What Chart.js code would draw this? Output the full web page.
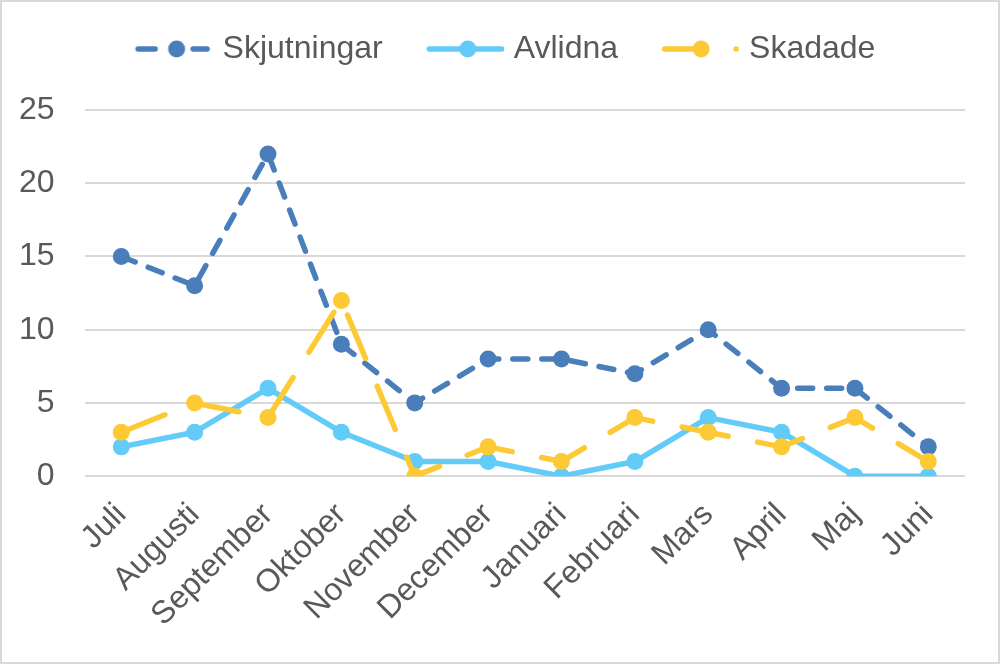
<!DOCTYPE html>
<html>
<head>
<meta charset="utf-8">
<title>Skjutningar per månad</title>
<script src="https://cdn.jsdelivr.net/npm/chart.js@4/dist/chart.umd.min.js"></script>
<style>
  html, body { margin: 0; padding: 0; background: #fff; }
  #wrap { position: relative; width: 1000px; height: 664px; box-sizing: border-box; border: 2px solid #d9d9d9; }
</style>
</head>
<body>
<div id="wrap"><canvas id="chart"></canvas></div>
<script>
const months = ['Juli', 'Augusti', 'September', 'Oktober', 'November', 'December',
    'Januari', 'Februari', 'Mars', 'April', 'Maj', 'Juni'];
const skjutningar = [15, 13, 22, 9, 5, 8, 8, 7, 10, 6, 6, 2];
const avlidna = [2, 3, 6, 3, 1, 1, 0, 1, 4, 3, 0, 0];
const skadade = [3, 5, 4, 12, 0, 2, 1, 4, 3, 2, 4, 1];
const yTicks = [0, 5, 10, 15, 20, 25];

const FONT = "'Liberation Sans', Arial, sans-serif";
const TEXT = '#595959';
const BLUE = '#4a7ebb';
const LIGHT = '#62cbf8';
const GOLD = '#fdc935';

// legend icon: line pieces + marker, drawn on a small canvas
function legendIcon(color, pieces, dotX, extraDot) {
    const c = document.createElement('canvas');
    c.width = 98; c.height = 20;
    const g = c.getContext('2d');
    g.strokeStyle = color;
    g.fillStyle = color;
    g.lineWidth = 5.5;
    g.lineCap = 'round';
    pieces.forEach(([a, b]) => {
        g.beginPath(); g.moveTo(a, 10); g.lineTo(b, 10); g.stroke();
    });
    g.beginPath(); g.arc(dotX, 10, 8.5, 0, Math.PI * 2); g.fill();
    if (extraDot) {
        g.beginPath(); g.arc(extraDot, 10, 2.8, 0, Math.PI * 2); g.fill();
    }
    return c;
}

const icons = [
    legendIcon(BLUE, [[23.5, 40.5], [78.5, 92.5]], 62),
    legendIcon(LIGHT, [[23.5, 95.5]], 62),
    legendIcon(GOLD, [[23.5, 61]], 60, 95)
];

// extra room between legend and plot, and a small nudge of the legend row
const legendSpacer = {
    id: 'legendSpacer',
    beforeInit(chart) {
        const fit = chart.legend.fit;
        chart.legend.fit = function () {
            fit.call(this);
            this.height += 37;
        };
    },
    afterLayout(chart) {
        const lg = chart.legend;
        lg.left += 6;
        lg.right += 6;
        lg.top += 2;
    }
};

const ctx = document.getElementById('chart');
new Chart(ctx, {
    type: 'line',
    data: {
        labels: months,
        datasets: [{
            label: 'Skjutningar',
            data: skjutningar,
            borderColor: BLUE,
            backgroundColor: BLUE,
            borderDash: [15, 14],
            order: 2
        }, {
            label: 'Avlidna',
            data: avlidna,
            borderColor: LIGHT,
            backgroundColor: LIGHT,
            order: 1
        }, {
            label: 'Skadade',
            data: skadade,
            borderColor: GOLD,
            backgroundColor: GOLD,
            borderDash: [47, 30],
            order: 0
        }]
    },
    options: {
        responsive: true,
        maintainAspectRatio: false,
        animation: false,
        layout: { padding: { left: 17, right: 33, top: 0, bottom: 3 } },
        elements: {
            line: { borderWidth: 5.5, tension: 0, borderCapStyle: 'round', borderJoinStyle: 'round', fill: false },
            point: { radius: 8.5, hoverRadius: 8.5, borderWidth: 0 }
        },
        scales: {
            x: {
                offset: true,
                grid: { display: false },
                border: { display: false },
                // rotated labels may hang past the plot edge, like in Excel
                afterFit: scale => {
                    scale.paddingLeft = 0;
                    scale.paddingRight = 0;
                    scale.height += 13;
                },
                ticks: {
                    autoSkip: false,
                    minRotation: 45,
                    maxRotation: 45,
                    padding: 12,
                    color: TEXT,
                    font: { size: 32, family: FONT }
                }
            },
            y: {
                min: 0,
                max: 25,
                afterBuildTicks: scale => { scale.ticks = yTicks.map(v => ({ value: v })); },
                // padding is counted on both sides of the labels, keep only the inner one
                afterFit: scale => { scale.width -= 30; },
                grid: { color: '#d9d9d9', lineWidth: 2, drawTicks: false },
                border: { display: false },
                ticks: {
                    padding: 30,
                    color: TEXT,
                    font: { size: 32, family: FONT }
                }
            }
        },
        plugins: {
            legend: {
                position: 'top',
                labels: {
                    usePointStyle: true,
                    pointStyleWidth: 86,
                    padding: 29,
                    color: TEXT,
                    font: { size: 32, family: FONT },
                    generateLabels: chart => chart.data.datasets.map((ds, i) => ({
                        text: ds.label,
                        pointStyle: icons[i],
                        fillStyle: ds.borderColor,
                        strokeStyle: ds.borderColor,
                        lineWidth: 0,
                        fontColor: TEXT,
                        hidden: false,
                        datasetIndex: i
                    }))
                }
            },
            tooltip: { enabled: false }
        }
    },
    plugins: [legendSpacer]
});
</script>
</body>
</html>
